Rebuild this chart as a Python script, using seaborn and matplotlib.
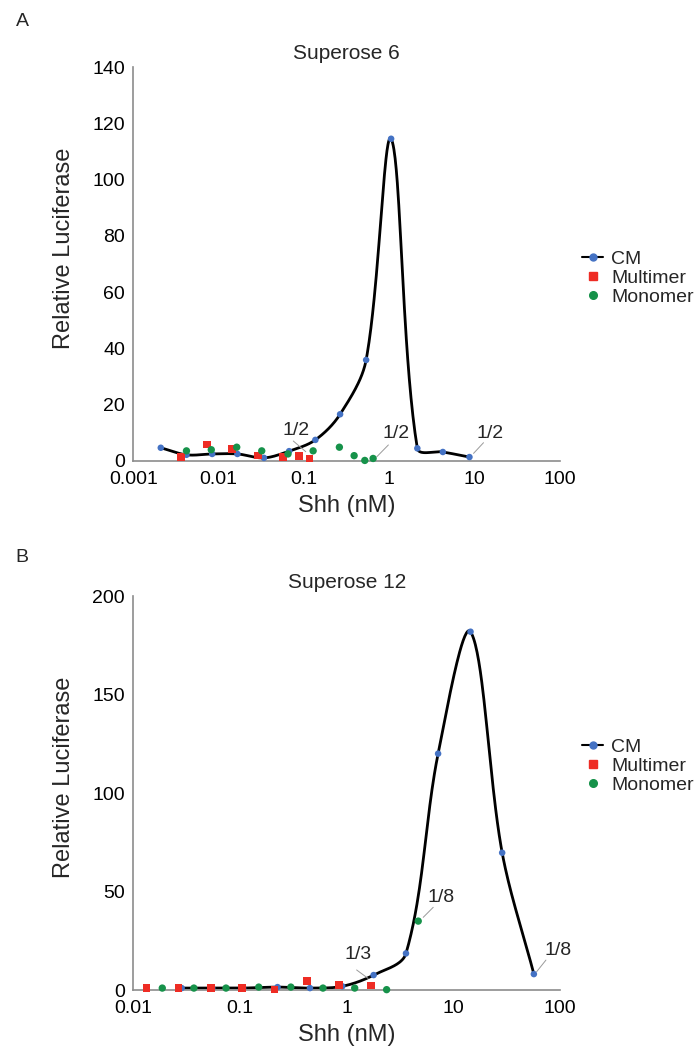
import numpy as np
import seaborn as sns
import matplotlib.pyplot as plt
from matplotlib.lines import Line2D

# Panel A - Superose 6
cm_a_x = [0.0021, 0.0042, 0.0084, 0.0166, 0.034, 0.067, 0.136, 0.265, 0.535, 1.05, 2.13, 4.24, 8.69]
cm_a_y = [4.7, 2.2, 2.5, 2.5, 1.1, 3.5, 7.5, 16.6, 35.9, 114.5, 4.5, 3.2, 1.4]
multi_a_x = [0.0036, 0.0073, 0.0144, 0.0287, 0.057, 0.087, 0.116]
multi_a_y = [1.4, 5.8, 4.2, 1.9, 1.4, 1.7, 0.9]
mono_a_x = [0.0042, 0.0082, 0.0163, 0.032, 0.065, 0.128, 0.26, 0.387, 0.516, 0.646]
mono_a_y = [3.6, 4.0, 4.9, 3.6, 2.5, 3.6, 4.9, 1.9, 0.2, 0.9]

# Panel B - Superose 12
cm_b_x = [0.0284, 0.055, 0.107, 0.225, 0.453, 0.91, 1.79, 3.6, 7.2, 14.5, 28.7, 56.9]
cm_b_y = [1, 1, 1, 1.5, 1, 1.9, 7.6, 18.6, 120, 181.9, 69.7, 8.1]
multi_b_x = [0.0133, 0.0266, 0.0535, 0.105, 0.211, 0.425, 0.85, 1.70]
multi_b_y = [1, 1, 1, 1, 0.2, 4.6, 2.5, 2.4]
mono_b_x = [0.0187, 0.037, 0.074, 0.150, 0.30, 0.60, 1.19, 2.37, 4.69]
mono_b_y = [1, 1, 1, 1.5, 1.5, 1, 1, 0.2, 35]

# dilution labels: (text, text_x, text_y, line_x0, line_y0, line_x1, line_y1)
notes_a = [("1/2", 0.080, 11.0, 0.075, 7.1, 0.105, 3.3),
           ("1/2", 1.19, 9.8, 0.975, 5.7, 0.713, 1.5),
           ("1/2", 15.2, 9.8, 12.7, 6.5, 9.7, 2.7)]
notes_b = [("1/3", 1.28, 17.8, 1.24, 10.2, 1.59, 5.9),
           ("1/8", 7.65, 46.9, 6.48, 42.0, 5.22, 36.9),
           ("1/8", 96.0, 20.3, 73.8, 15.2, 60.4, 9.3)]

x_ticks_a = [0.001, 0.01, 0.1, 1, 10, 100]
x_labels_a = ["0.001", "0.01", "0.1", "1", "10", "100"]
x_ticks_b = [0.01, 0.1, 1, 10, 100]
x_labels_b = ["0.01", "0.1", "1", "10", "100"]

BLUE = "#4472C4"
RED = "#EE2C24"
GREEN = "#16924A"
GREY = "#8C8C8C"
TICK_FS = 14

sns.set_theme(style="white")
plt.rcParams["font.family"] = ["Liberation Sans", "DejaVu Sans"]


def smooth(ax, xs, ys, n=40):
    # smoothed line like a spreadsheet chart: bezier through the points,
    # tangents scaled by neighbouring chord lengths (in screen space)
    p = ax.transData.transform(np.column_stack([xs, ys]))
    m = len(p)
    d, lp, ln = [], [], []
    for i in range(m):
        prev = p[i - 1] if i > 0 else p[i]
        nxt = p[i + 1] if i < m - 1 else p[i]
        d.append(nxt - prev)
        lp.append(np.hypot(*(p[i] - prev)))
        ln.append(np.hypot(*(nxt - p[i])))
    t = np.linspace(0, 1, n)[:, None]
    out = []
    for i in range(m - 1):
        c1 = p[i] + d[i] * ln[i] / (lp[i] + ln[i]) / 3
        c2 = p[i + 1] - d[i + 1] * lp[i + 1] / (lp[i + 1] + ln[i + 1]) / 3
        seg = (1 - t) ** 3 * p[i] + 3 * (1 - t) ** 2 * t * c1 + 3 * (1 - t) * t ** 2 * c2 + t ** 3 * p[i + 1]
        out.append(seg)
    out = ax.transData.inverted().transform(np.vstack(out))
    return out[:, 0], out[:, 1]


def panel(ax, cx, cy, mx, my, gx, gy, notes, ymax, ystep, xt, xl, title):
    ax.set_xscale("log")
    ax.set_xlim(xt[0], xt[-1])
    ax.set_ylim(0, ymax)
    sx, sy = smooth(ax, cx, cy)
    sns.lineplot(x=sx, y=sy, sort=False, estimator=None, color="black", lw=2, ax=ax)
    sns.scatterplot(x=cx, y=cy, color=BLUE, s=22, marker="o", edgecolor="none", ax=ax, clip_on=False, zorder=3)
    sns.scatterplot(x=mx, y=my, color=RED, s=30, marker="s", edgecolor="none", ax=ax, clip_on=False, zorder=4)
    sns.scatterplot(x=gx, y=gy, color=GREEN, s=28, marker="o", edgecolor="none", ax=ax, clip_on=False, zorder=5)
    for txt, tx, ty, x0, y0, x1, y1 in notes:
        ax.plot([x0, x1], [y0, y1], color="#9A9A9A", lw=0.7)
        ax.text(tx, ty, txt, ha="center", va="center", fontsize=TICK_FS)
    ax.set_xlim(xt[0], xt[-1])
    ax.set_ylim(0, ymax)
    ax.set_xticks(xt)
    ax.set_xticklabels(xl)
    ax.minorticks_off()
    yt = np.arange(0, ymax + 1, ystep)
    ax.set_yticks(yt)
    ax.set_yticklabels([str(v) for v in yt])
    ax.tick_params(axis="both", direction="out", length=4, width=1, color=GREY, pad=2,
                   labelcolor="black", labelsize=TICK_FS)
    ax.tick_params(axis="x", pad=3)
    for side in ["top", "right"]:
        ax.spines[side].set_visible(False)
    for side in ["left", "bottom"]:
        ax.spines[side].set_color(GREY)
        ax.spines[side].set_linewidth(1.2)
    ax.set_title(title, fontsize=15, pad=6)
    ax.set_xlabel("Shh (nM)", fontsize=17)
    ax.set_ylabel("Relative Luciferase", fontsize=17)
    ax.xaxis.set_label_coords(0.5, -0.086)
    ax.yaxis.set_label_coords(-0.137, 0.54)


fig = plt.figure(figsize=(7, 10.47), dpi=100)
ax_a = fig.add_axes([0.1904, 0.5597, 0.6096, 0.3763])
ax_b = fig.add_axes([0.1904, 0.0544, 0.6096, 0.3763])

panel(ax_a, cm_a_x, cm_a_y, multi_a_x, multi_a_y, mono_a_x, mono_a_y, notes_a, 140, 20, x_ticks_a, x_labels_a, "Superose 6")
panel(ax_b, cm_b_x, cm_b_y, multi_b_x, multi_b_y, mono_b_x, mono_b_y, notes_b, 200, 50, x_ticks_b, x_labels_b, "Superose 12")

handles = [Line2D([], [], color="black", lw=1.5, marker="o", markersize=5, markerfacecolor=BLUE, markeredgecolor=BLUE),
           Line2D([], [], color=RED, lw=0, marker="s", markersize=5.5, markeredgecolor=RED),
           Line2D([], [], color=GREEN, lw=0, marker="o", markersize=5.5, markeredgecolor=GREEN)]
labels = ["CM", "Multimer", "Monomer"]
for ytop in [1 - 250 / 1047, 1 - 738 / 1047]:
    fig.legend(handles, labels, loc="upper left", bbox_to_anchor=(582 / 700, ytop),
               frameon=False, fontsize=14, handlelength=1.1, handletextpad=0.4,
               labelspacing=0.08, borderpad=0, borderaxespad=0)

fig.text(22 / 700, 1 - 22 / 1047, "A", ha="center", va="center", fontsize=14)
fig.text(22 / 700, 1 - 558 / 1047, "B", ha="center", va="center", fontsize=14)

fig.savefig("out.png", dpi=100)
